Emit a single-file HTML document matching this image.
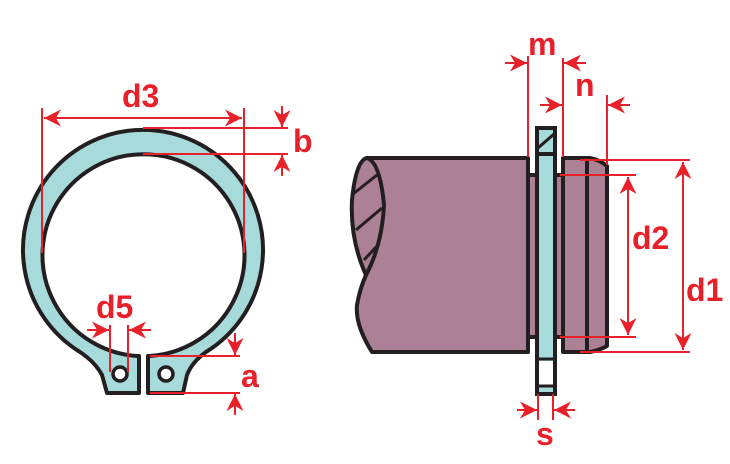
<!DOCTYPE html>
<html><head><meta charset="utf-8"><style>
body{margin:0;background:#fff}
svg{display:block}
text{font-family:"Liberation Sans",sans-serif;font-weight:bold;fill:#e8202a;font-size:32px}
</style></head><body>
<svg width="730" height="464" viewBox="0 0 730 464">
<defs>
<marker id="ar" viewBox="0 0 10 10" refX="10" refY="5" markerWidth="17" markerHeight="17" markerUnits="userSpaceOnUse" orient="auto-start-reverse">
<path d="M0,0 L10,5 L0,10 L3,5 z" fill="#e8202a"/></marker>
</defs>
<g>
<path d="M139,356 L139,393 L107,393 L102,375 Q95,362 80,352 A120,120 0 1 1 206,352 Q192,362 187,375 L183,393 L148,393 L148,356 L150,356 A101,101 0 1 0 137,356 Z" fill="#a6dadb" stroke="#231f20" stroke-width="4" stroke-linejoin="round" fill-rule="evenodd"/>
<circle cx="120" cy="374" r="7" fill="#fff" stroke="#231f20" stroke-width="3.5"/>
<circle cx="166" cy="374" r="7" fill="#fff" stroke="#231f20" stroke-width="3.5"/>
</g>
<g stroke="#e8202a" stroke-width="2" fill="none">
<line x1="42" y1="108" x2="42" y2="253"/><line x1="244" y1="108" x2="244" y2="253"/>
<line x1="44" y1="118" x2="242" y2="118" marker-start="url(#ar)" marker-end="url(#ar)"/>
<line x1="143" y1="128" x2="288" y2="128"/><line x1="143" y1="154" x2="288" y2="154"/>
<line x1="282" y1="106" x2="282" y2="127" marker-end="url(#ar)"/><line x1="282" y1="176" x2="282" y2="155" marker-end="url(#ar)"/>
<line x1="110" y1="325" x2="110" y2="372"/><line x1="128" y1="325" x2="128" y2="372"/>
<line x1="87" y1="330" x2="109" y2="330" marker-end="url(#ar)"/><line x1="151" y1="330" x2="129" y2="330" marker-end="url(#ar)"/>
<line x1="150" y1="356" x2="240" y2="356"/><line x1="150" y1="393" x2="240" y2="393"/>
<line x1="235" y1="333" x2="235" y2="355" marker-end="url(#ar)"/><line x1="235" y1="415" x2="235" y2="394" marker-end="url(#ar)"/>
</g>
<text x="122" y="107">d3</text>
<text x="293" y="152">b</text>
<text x="96" y="318">d5</text>
<text x="241" y="387">a</text>
<g stroke="#231f20" stroke-width="4" stroke-linejoin="round">
<path d="M367,158 L528,158 L528,175 L563,175 L563,158 L590,158 Q600,160 607,166 L607,346 Q600,350 590,352 L563,352 L563,337 L528,337 L528,352 L372,352 Q355,325 357,305 Q360,288 366,275 Q350,240 352,200 Q356,160 367,158 Z" fill="#ac8095"/>
<path d="M367,158 Q380,162 384,205 Q382,245 366,275" fill="none"/>
<line x1="353" y1="194" x2="377" y2="175" stroke-width="3"/>
<line x1="356" y1="230" x2="382" y2="208" stroke-width="3"/>
<line x1="364" y1="260" x2="377" y2="246" stroke-width="3"/>
<line x1="528" y1="175" x2="528" y2="337"/>
<line x1="563" y1="175" x2="563" y2="337"/>
<line x1="587" y1="160" x2="587" y2="350"/>
</g>
<g stroke="#231f20" stroke-width="4">
<rect x="537" y="128" width="18" height="266" fill="#a6dadb"/>
<line x1="537" y1="154" x2="555" y2="154"/>
<line x1="538" y1="148" x2="554" y2="134" stroke-width="3"/>
<rect x="539" y="361" width="14" height="24" fill="#fff" stroke="none"/>
<line x1="537" y1="359" x2="555" y2="359" stroke-width="3"/>
<line x1="537" y1="386" x2="555" y2="386" stroke-width="3"/>
</g>
<g stroke="#e8202a" stroke-width="2" fill="none">
<line x1="528" y1="56" x2="528" y2="157"/><line x1="563" y1="58" x2="563" y2="157"/>
<line x1="505" y1="63" x2="527" y2="63" marker-end="url(#ar)"/><line x1="586" y1="63" x2="564" y2="63" marker-end="url(#ar)"/>
<line x1="607" y1="95" x2="607" y2="165"/>
<line x1="540" y1="105" x2="562" y2="105" marker-end="url(#ar)"/><line x1="630" y1="105" x2="608" y2="105" marker-end="url(#ar)"/>
<line x1="560" y1="175" x2="636" y2="175"/><line x1="560" y1="337" x2="636" y2="337"/>
<line x1="628" y1="177" x2="628" y2="335" marker-start="url(#ar)" marker-end="url(#ar)"/>
<line x1="580" y1="160" x2="690" y2="160"/><line x1="580" y1="352" x2="690" y2="352"/>
<line x1="683" y1="162" x2="683" y2="350" marker-start="url(#ar)" marker-end="url(#ar)"/>
<line x1="538" y1="394" x2="538" y2="420"/><line x1="553" y1="394" x2="553" y2="420"/>
<line x1="517" y1="410" x2="537" y2="410" marker-end="url(#ar)"/><line x1="575" y1="410" x2="554" y2="410" marker-end="url(#ar)"/>
</g>
<text x="528" y="55">m</text>
<text x="575" y="96">n</text>
<text x="632" y="249">d2</text>
<text x="686" y="301">d1</text>
<text x="536" y="445">s</text>
</svg>
</body></html>
